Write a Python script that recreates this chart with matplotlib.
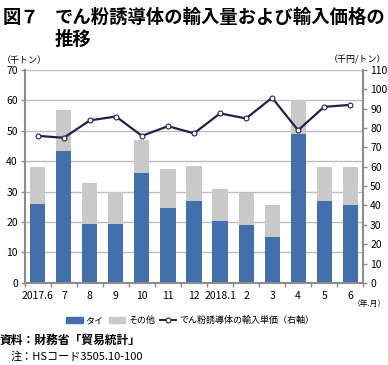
import matplotlib
matplotlib.use("Agg")
import matplotlib.pyplot as plt
import numpy as np
from matplotlib.lines import Line2D
from matplotlib.patches import Patch

plt.rcParams['font.family'] = ['Noto Sans CJK JP', 'DejaVu Sans']

# months on the x axis
months = ['2017.6', '7', '8', '9', '10', '11', '12', '2018.1', '2', '3', '4', '5', '6']
# import volume, thousand tonnes
thai = [26, 43.5, 19.3, 19.5, 36, 24.5, 27, 20.5, 19, 15, 49, 27, 25.5]
total = [38, 57, 33, 30, 47, 37.5, 38.5, 31, 29.5, 25.5, 60, 38, 38]
# unit import price, thousand yen per tonne (right axis)
price = [76, 75, 84, 86, 76, 81, 77.3, 87.6, 85, 95.7, 78.9, 91, 92]

other = [t - a for t, a in zip(total, thai)]

blue = '#4170ab'
grey = '#c9c9c9'
navy = '#22224a'
axis_grey = '#8c8c8c'

fig = plt.figure(figsize=(3.88, 3.65), dpi=100)
ax = fig.add_axes([0.064, 0.225, 0.872, 0.583])
x = np.arange(len(months))

ax.bar(x, thai, width=0.58, color=blue, zorder=2)
ax.bar(x, other, width=0.58, bottom=thai, color=grey, zorder=2)

ax.set_xlim(-0.5, len(months) - 0.5)
ax.set_ylim(0, 70)
ax.set_yticks(range(0, 71, 10))
ax.yaxis.grid(True, color='#bdbdbd', linewidth=1.0, zorder=0)
ax.set_axisbelow(True)
ax.set_xticks(x)
ax.set_xticklabels(months)
ax.set_xticks(np.arange(-0.5, len(months), 1), minor=True)
ax.tick_params(axis='x', which='major', length=0, labelsize=7.5, pad=6)
ax.tick_params(axis='x', which='minor', length=3, color=axis_grey, width=1)
ax.tick_params(axis='y', length=3, color=axis_grey, width=1, labelsize=7.5, pad=2)
for s in ['top', 'right']:
    ax.spines[s].set_visible(False)
for s in ['left', 'bottom']:
    ax.spines[s].set_color(axis_grey)
    ax.spines[s].set_linewidth(1.5)

ax2 = ax.twinx()
ax2.plot(x, price, color=navy, linewidth=1.6, marker='o', markersize=3.5,
         markerfacecolor='white', markeredgecolor=navy, markeredgewidth=0.8, zorder=5)
ax2.set_ylim(0, 110)
ax2.set_yticks(range(0, 111, 10))
ax2.tick_params(axis='y', length=3, color=axis_grey, width=1, labelsize=7.5, pad=2)
for s in ['top', 'left', 'bottom']:
    ax2.spines[s].set_visible(False)
ax2.spines['right'].set_color(axis_grey)
ax2.spines['right'].set_linewidth(1.5)

# title
fig.text(0.008, 0.978, '図７', fontsize=13.2, fontweight='bold', va='top')
fig.text(0.14, 0.978, 'でん粉誘導体の輸入量および輸入価格の\n推移', fontsize=13.2,
         fontweight='bold', va='top', linespacing=1.2)

# axis units
fig.text(0.005, 0.822, '（千トン）', fontsize=6.5, va='bottom')
fig.text(0.995, 0.822, '（千円/トン）', fontsize=6.5, va='bottom', ha='right')
fig.text(0.995, 0.168, '（年.月）', fontsize=5.6, ha='right', va='center')

handles = [Patch(color=blue), Patch(color=grey),
           Line2D([], [], color=navy, linewidth=1.4, marker='o', markersize=3.5,
                  markerfacecolor='white', markeredgewidth=0.8)]
labels = ['タイ', 'その他', 'でん粉誘導体の輸入単価（右軸）']
fig.legend(handles, labels, loc='center', bbox_to_anchor=(0.49, 0.122), ncol=3,
           frameon=False, fontsize=6.5, handlelength=1.8, handleheight=0.7,
           handletextpad=0.3, columnspacing=0.6)

fig.text(0.0, 0.068, '資料：財務省「貿易統計」', fontsize=8.5, fontweight='bold', va='center')
fig.text(0.028, 0.022, '注：HSコード3505.10-100', fontsize=8, va='center')

fig.savefig('out.png', dpi=100)
